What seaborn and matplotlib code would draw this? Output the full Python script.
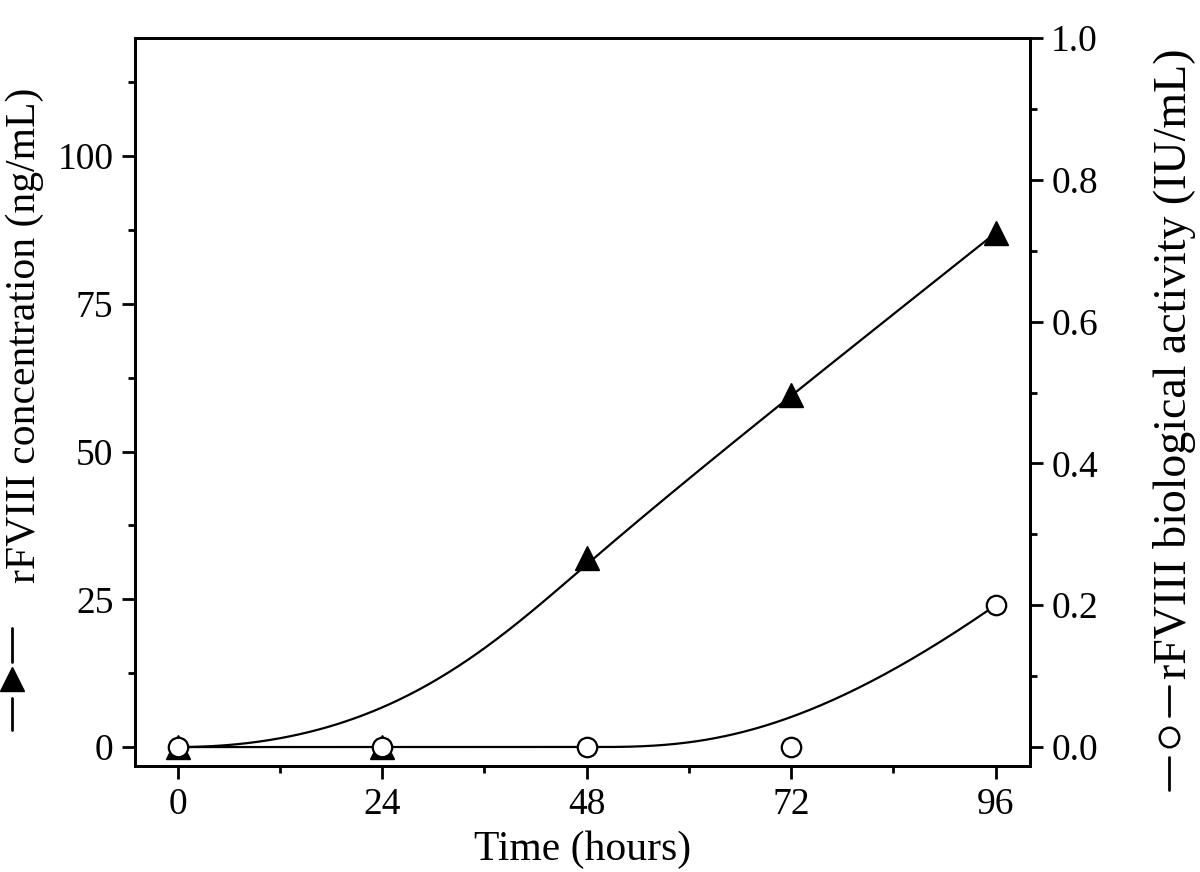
import numpy as np
import matplotlib
matplotlib.use("Agg")
import matplotlib.pyplot as plt
from matplotlib.ticker import MultipleLocator, FormatStrFormatter
import seaborn as sns

# data
time_h = [0, 24, 48, 72, 96]
conc_ng = [0.0, 0.0, 32.0, 59.5, 87.0]        # triangles, left axis
activity_iu = [0.0, 0.0, 0.0, 0.0, 0.20]      # circles, right axis


def bspline(px, py, n=300, k=3):
    # clamped B-spline through the data points used as control points
    px = np.asarray(px, float)
    py = np.asarray(py, float)
    m = len(px)
    inner = np.linspace(0, 1, m - k + 1)[1:-1]
    knots = np.concatenate([np.zeros(k + 1), inner, np.ones(k + 1)])
    t = np.linspace(0, 1, n)
    t[-1] = 1 - 1e-12
    B = np.zeros((n, len(knots) - 1))
    for i in range(len(knots) - 1):
        B[:, i] = (t >= knots[i]) & (t < knots[i + 1])
    for d in range(1, k + 1):
        Bn = np.zeros((n, len(knots) - d - 1))
        for i in range(len(knots) - d - 1):
            a = knots[i + d] - knots[i]
            b = knots[i + d + 1] - knots[i + 1]
            left = (t - knots[i]) / a * B[:, i] if a > 0 else 0
            right = (knots[i + d + 1] - t) / b * B[:, i + 1] if b > 0 else 0
            Bn[:, i] = left + right
        B = Bn
    return B @ px, B @ py


sns.set_theme(style="ticks")
plt.rcParams["font.family"] = ["Liberation Serif", "DejaVu Sans"]

fig = plt.figure(figsize=(12, 8.72), dpi=100)
ax = fig.add_axes([0.1125, 0.1216, 0.7455, 0.8348])
ax2 = ax.twinx()

# concentration (left axis)
cx, cy = bspline(time_h, conc_ng)
sns.lineplot(x=cx, y=cy, ax=ax, color="black", lw=1.6, sort=False, zorder=2)
ax.plot(time_h, conc_ng, ls="none", marker="^", ms=17, color="black", zorder=3)

# activity (right axis), drawn on top
ax2.set_zorder(ax.get_zorder() + 1)
ax2.patch.set_visible(False)
ax2x, ax2y = bspline(time_h, activity_iu)
sns.lineplot(x=ax2x, y=ax2y, ax=ax2, color="black", lw=1.6, sort=False, zorder=2)
ax2.plot(time_h, activity_iu, ls="none", marker="o", ms=14, mfc="white",
         mec="black", mew=1.6, zorder=3)

ax.set_xlim(-5, 100)
ax.set_ylim(-3.2, 120)
ax2.set_ylim(-3.2 / 120, 1.0)

ax.xaxis.set_major_locator(MultipleLocator(24))
ax.xaxis.set_minor_locator(MultipleLocator(12))
ax.yaxis.set_major_locator(MultipleLocator(25))
ax.yaxis.set_minor_locator(MultipleLocator(12.5))
ax2.yaxis.set_major_locator(MultipleLocator(0.2))
ax2.yaxis.set_minor_locator(MultipleLocator(0.1))
ax2.yaxis.set_major_formatter(FormatStrFormatter("%.1f"))

for a in (ax, ax2):
    a.tick_params(which="major", direction="out", length=9.5, width=2,
                  labelsize=27, pad=6, color="black", labelcolor="black")
    a.tick_params(which="minor", direction="out", length=5, width=2, color="black")
    for s in a.spines.values():
        s.set_color("black")
        s.set_linewidth(2)
ax.tick_params(axis="x", which="both", top=False)
ax2.tick_params(axis="x", which="both", top=False, bottom=False)

ax.set_xlabel("Time (hours)", fontsize=30, labelpad=6, color="black")
ax.set_ylabel("rFVIII concentration (ng/mL)", fontsize=30, color="black")
ax.yaxis.set_label_coords(-0.102, 0.592)
ax2.set_ylabel("rFVIII biological activity (IU/mL)", fontsize=33,
               color="black", rotation=90)
ax2.yaxis.set_label_coords(1.138, 0.552)

# legend keys drawn beside the axis titles
for y0, y1 in [(0.1896, 0.1429), (0.0934, 0.0495)]:
    ax.plot([-0.1374, -0.1374], [y0, y1], transform=ax.transAxes,
            color="black", lw=2, clip_on=False)
ax.plot([-0.1374], [0.120], transform=ax.transAxes, marker="^", ms=17,
        color="black", clip_on=False)
for y0, y1 in [(0.110, 0.0687), (0.0124, -0.033)]:
    ax2.plot([1.1553, 1.1553], [y0, y1], transform=ax2.transAxes,
             color="black", lw=2, clip_on=False)
ax2.plot([1.1553], [0.0398], transform=ax2.transAxes, marker="o", ms=14,
         mfc="white", mec="black", mew=1.8, clip_on=False)

fig.savefig("out.png", dpi=100)
